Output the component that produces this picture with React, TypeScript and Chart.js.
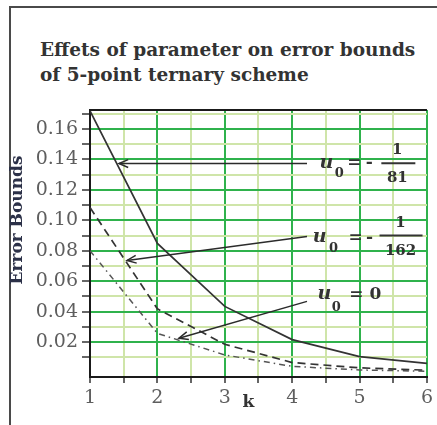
import { useEffect, useRef } from 'react';
import { Chart, registerables } from 'chart.js';

Chart.register(...registerables);

// Refinement level k and the error bound of each parameter choice
const K = [1, 2, 3, 4, 5, 6];
const boundsU81 = [0.172, 0.0848, 0.0434, 0.0216, 0.0104, 0.006];
const boundsU162 = [0.1084, 0.0418, 0.0185, 0.0065, 0.003, 0.0015];
const boundsU0 = [0.08, 0.0257, 0.0115, 0.004, 0.0016, 0.0008];

const X_TICK_LABELS = ['1', '2', '3', '4', '5', '6'];
const Y_TICK_LABELS = ['0.02', '0.04', '0.06', '0.08', '0.10', '0.12', '0.14', '0.16'];

const TITLE_LINES = ['Effets of parameter on error bounds', 'of 5-point ternary scheme'];

// Pointer arrows from each parameter label to its curve, in data units [k, bound]
const ARROWS = [
  { from: [4.22, 0.1373], to: [1.43, 0.1373] },
  { from: [4.22, 0.0894], to: [1.55, 0.0736] },
  { from: [4.22, 0.0467], to: [2.32, 0.0225] },
];

const SERIF = '"DejaVu Serif", serif';
const MAJOR_GRID = '#2fb24c';
const MINOR_GRID = '#cfe5a9';
const INK = '#333333';

type Piece = { t: string; dx: number; dy: number; font: string };
type Label = { at: [number, number]; pieces: Piece[]; bar?: [number, number, number] };

const uFont = `italic bold 19px ${SERIF}`;
const subFont = `bold 13px ${SERIF}`;
const opFont = `bold 17px ${SERIF}`;
const fracFont = `bold 15px ${SERIF}`;

const LABELS: Label[] = [
  {
    at: [4.507, 0.1379],
    pieces: [
      { t: 'u', dx: 0, dy: 0, font: uFont },
      { t: '0', dx: 13, dy: 11, font: subFont },
      { t: '=', dx: 28, dy: 0, font: opFont },
      { t: '-', dx: 43, dy: 0, font: opFont },
      { t: '1', dx: 71, dy: -13, font: fracFont },
      { t: '81', dx: 71, dy: 15, font: fracFont },
    ],
    bar: [55, 89, 0.5],
  },
  {
    at: [4.406, 0.0887],
    pieces: [
      { t: 'u', dx: 0, dy: 0, font: uFont },
      { t: '0', dx: 14, dy: 11, font: subFont },
      { t: '=', dx: 36, dy: 0, font: opFont },
      { t: '-', dx: 50, dy: 0, font: opFont },
      { t: '1', dx: 81, dy: -14, font: fracFont },
      { t: '162', dx: 81, dy: 14, font: fracFont },
    ],
    bar: [60, 103, -2],
  },
  {
    at: [4.478, 0.0513],
    pieces: [
      { t: 'u', dx: 0, dy: 0, font: uFont },
      { t: '0', dx: 12, dy: 13, font: subFont },
      { t: '=', dx: 32, dy: 0, font: opFont },
      { t: '0', dx: 51, dy: 0, font: opFont },
    ],
  },
];

const overlay = {
  id: 'overlay',
  afterDraw(chart: any) {
    const { ctx, chartArea, scales } = chart;
    const xs = scales.x;
    const ys = scales.y;
    ctx.save();

    // upper frame of the plotting region
    ctx.strokeStyle = '#1a1a1a';
    ctx.lineWidth = 2;
    ctx.beginPath();
    ctx.moveTo(chartArea.left, chartArea.top);
    ctx.lineTo(chartArea.right, chartArea.top);
    ctx.stroke();

    // arrows
    ctx.strokeStyle = '#2b2b2b';
    ctx.lineWidth = 1.5;
    for (const a of ARROWS) {
      const x1 = xs.getPixelForValue(a.from[0]);
      const y1 = ys.getPixelForValue(a.from[1]);
      const x2 = xs.getPixelForValue(a.to[0]);
      const y2 = ys.getPixelForValue(a.to[1]);
      ctx.beginPath();
      ctx.moveTo(x1, y1);
      ctx.lineTo(x2, y2);
      ctx.stroke();
      const ang = Math.atan2(y1 - y2, x1 - x2);
      const len = 10;
      const spread = 0.4;
      ctx.beginPath();
      ctx.moveTo(x2 + len * Math.cos(ang - spread), y2 + len * Math.sin(ang - spread));
      ctx.lineTo(x2, y2);
      ctx.lineTo(x2 + len * Math.cos(ang + spread), y2 + len * Math.sin(ang + spread));
      ctx.stroke();
    }

    // parameter labels
    ctx.fillStyle = INK;
    ctx.textAlign = 'center';
    ctx.textBaseline = 'middle';
    for (const l of LABELS) {
      const ax = xs.getPixelForValue(l.at[0]);
      const ay = ys.getPixelForValue(l.at[1]);
      for (const p of l.pieces) {
        ctx.font = p.font;
        ctx.fillText(p.t, ax + p.dx, ay + p.dy);
      }
      if (l.bar) {
        ctx.strokeStyle = INK;
        ctx.lineWidth = 2;
        ctx.beginPath();
        ctx.moveTo(ax + l.bar[0], ay + l.bar[2]);
        ctx.lineTo(ax + l.bar[1], ay + l.bar[2]);
        ctx.stroke();
      }
    }

    // axis names
    ctx.fillStyle = INK;
    ctx.font = `bold 17px ${SERIF}`;
    ctx.fillText('k', xs.getPixelForValue(3.35), chartArea.bottom + 26);

    ctx.fillStyle = '#2c3148';
    ctx.translate(18, 220);
    ctx.rotate(-Math.PI / 2);
    ctx.fillText('Error Bounds', 0, 0);
    ctx.restore();
  },
};

export default function App() {
  const canvasRef = useRef<HTMLCanvasElement | null>(null);

  useEffect(() => {
    document.body.style.margin = '0';
    const canvas = canvasRef.current;
    if (!canvas) return;

    const series = (vals: number[]) => K.map((k, i) => ({ x: k, y: vals[i] }));

    const chart = new Chart(canvas, {
      type: 'line',
      data: {
        datasets: [
          {
            label: 'u0 = -1/81',
            data: series(boundsU81),
            borderColor: '#333333',
            borderWidth: 1.7,
            pointRadius: 0,
            tension: 0,
          },
          {
            label: 'u0 = -1/162',
            data: series(boundsU162),
            borderColor: '#333333',
            borderWidth: 1.7,
            borderDash: [8, 5],
            pointRadius: 0,
            tension: 0,
          },
          {
            label: 'u0 = 0',
            data: series(boundsU0),
            borderColor: '#555555',
            borderWidth: 1.5,
            borderDash: [6, 4, 1.5, 4],
            pointRadius: 0,
            tension: 0,
          },
        ],
      },
      options: {
        animation: false,
        responsive: false,
        maintainAspectRatio: false,
        layout: { padding: { top: 110, right: 2, left: 0, bottom: 0 } },
        plugins: {
          legend: { display: false },
          tooltip: { enabled: false },
          title: { display: false },
        },
        scales: {
          x: {
            type: 'linear',
            min: 1,
            max: 6,
            ticks: {
              stepSize: 0.5,
              autoSkip: false,
              maxRotation: 0,
              padding: 4,
              color: '#5e5e5e',
              font: { family: SERIF, size: 19 },
              callback: (v: any) => {
                const s = String(v);
                return X_TICK_LABELS.includes(s) ? s : '';
              },
            },
            grid: {
              color: (c: any) => (Number.isInteger(c.tick?.value) ? MAJOR_GRID : MINOR_GRID),
              lineWidth: 2,
              tickLength: 6,
              tickColor: '#333',
              tickWidth: 1.5,
            },
            border: { color: '#1a1a1a', width: 2 },
            afterFit: (s: any) => {
              s.height = 48;
            },
          },
          y: {
            type: 'linear',
            min: -0.003,
            max: 0.1725,
            ticks: {
              stepSize: 0.01,
              includeBounds: false,
              autoSkip: false,
              padding: 4,
              color: '#5e5e5e',
              font: { family: SERIF, size: 19 },
              callback: (v: any) => {
                const s = (Math.round(Number(v) * 100) / 100).toFixed(2);
                return Y_TICK_LABELS.includes(s) ? s : '';
              },
            },
            grid: {
              color: (c: any) => {
                const n = Math.round((c.tick?.value ?? 0) * 100);
                if (n <= 0) return 'rgba(0,0,0,0)';
                return n % 2 === 0 ? MAJOR_GRID : MINOR_GRID;
              },
              lineWidth: 2,
              tickLength: 8,
              tickColor: (c: any) =>
                Math.round((c.tick?.value ?? 0) * 100) <= 0 ? 'rgba(0,0,0,0)' : '#333',
              tickWidth: 1.5,
            },
            border: { color: '#1a1a1a', width: 2 },
            afterFit: (s: any) => {
              s.width = 90;
            },
          },
        },
      },
      plugins: [overlay],
    });

    return () => chart.destroy();
  }, []);

  return (
    <div style={{ position: 'relative', width: 437, height: 425, overflow: 'hidden', background: '#fff' }}>
      <div
        style={{
          position: 'absolute',
          left: 9,
          top: 6,
          width: 460,
          height: 460,
          borderLeft: '2px solid #4a4a4a',
          borderTop: '2px solid #4a4a4a',
          boxSizing: 'border-box',
        }}
      />
      <div
        style={{
          position: 'absolute',
          left: 40,
          top: 37,
          fontFamily: SERIF,
          fontWeight: 'bold',
          fontSize: 18.5,
          lineHeight: '25px',
          color: INK,
          whiteSpace: 'nowrap',
        }}
      >
        {TITLE_LINES.map((t) => (
          <div key={t}>{t}</div>
        ))}
      </div>
      <canvas ref={canvasRef} width={437} height={425} style={{ position: 'absolute', left: 0, top: 0 }} />
    </div>
  );
}
